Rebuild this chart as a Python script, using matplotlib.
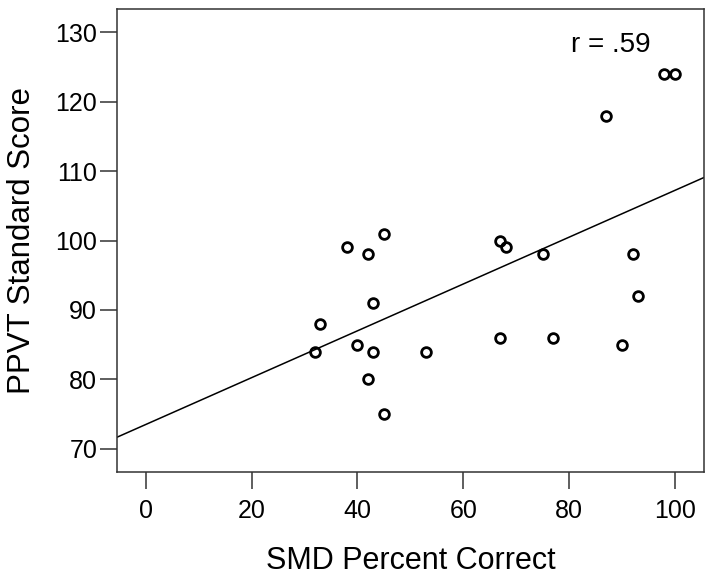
import numpy as np
import matplotlib
matplotlib.use("Agg")
import matplotlib.pyplot as plt

plt.rcParams['font.family'] = ['Liberation Sans', 'DejaVu Sans']

# SMD percent correct vs PPVT standard score
smd_pct = [32, 33, 38, 40, 42, 42, 43, 43, 45, 45, 53,
           67, 67, 68, 75, 77, 87, 90, 92, 93, 98, 100]
ppvt = [84, 88, 99, 85, 98, 80, 91, 84, 101, 75, 84,
        100, 86, 99, 98, 86, 118, 85, 98, 92, 124, 124]
r_label = "r = .59"

x = np.array(smd_pct, dtype=float)
y = np.array(ppvt, dtype=float)
slope, intercept = np.polyfit(x, y, 1)

fig = plt.figure(figsize=(7.14, 5.78), dpi=100)
ax = fig.add_axes([0.1634, 0.1839, 0.8226, 0.8])

xlim = (-5.5, 105.5)
ax.set_xlim(xlim)
ax.set_ylim(66.7, 133.3)

xs = np.array(xlim)
ax.plot(xs, intercept + slope * xs, '-', color='black', linewidth=1.1)
ax.plot(x, y, 'o', markerfacecolor='none', markeredgecolor='black',
        markersize=7, markeredgewidth=2)

ax.text(80.3, 128.2, r_label, fontsize=20, va='center', ha='left')

ax.set_xticks([0, 20, 40, 60, 80, 100])
ax.set_yticks([70, 80, 90, 100, 110, 120, 130])
ax.tick_params(direction='out', length=12, width=1.1, labelsize=18,
               color='#333333')
ax.tick_params(axis='x', pad=8)
ax.tick_params(axis='y', pad=2)
for sp in ax.spines.values():
    sp.set_linewidth(1.1)
    sp.set_color('#333333')

ax.set_xlabel('SMD Percent Correct', fontsize=22, labelpad=16)
ax.set_ylabel('PPVT Standard Score', fontsize=22.5, labelpad=13)

fig.savefig('out.png', dpi=100)
